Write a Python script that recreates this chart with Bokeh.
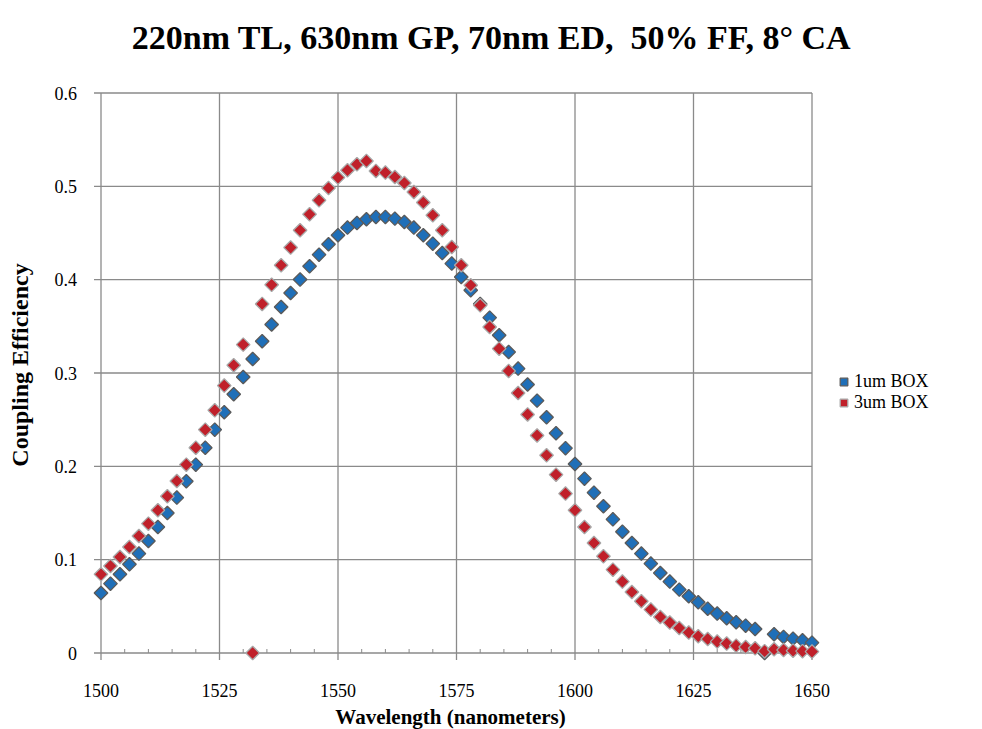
import numpy as np
from bokeh.plotting import figure
from bokeh.models import ColumnDataSource, Legend, LegendItem
from bokeh.core.properties import value
from bokeh.embed import file_html
from bokeh.resources import INLINE

# ---- data -------------------------------------------------------------
wavelength = list(range(1500, 1651, 2))

box_1um = [
    0.0643, 0.0743, 0.0843, 0.0950, 0.1065, 0.1200, 0.1350, 0.1500, 0.1665, 0.1840,
    0.2018, 0.2200, 0.2393, 0.2579, 0.2772, 0.2957, 0.3150, 0.3340, 0.3520, 0.3707,
    0.3857, 0.4001, 0.4143, 0.4268, 0.4379, 0.4476, 0.4558, 0.4607, 0.4647, 0.4672,
    0.4672, 0.4654, 0.4618, 0.4558, 0.4476, 0.4386, 0.4286, 0.4172, 0.4029, 0.3886,
    0.3740, 0.3593, 0.3404, 0.3225, 0.3047, 0.2877, 0.2704, 0.2525, 0.2354, 0.2195,
    0.2025, 0.1868, 0.1718, 0.1572, 0.1432, 0.1300, 0.1179, 0.1065, 0.0958, 0.0857,
    0.0765, 0.0679, 0.0608, 0.0543, 0.0475, 0.0422, 0.0372, 0.0329, 0.0293, 0.0257,
    0.0000, 0.0200, 0.0172, 0.0154, 0.0136, 0.0111,
]

box_3um = [
    0.0843, 0.0932, 0.1029, 0.1136, 0.1254, 0.1386, 0.1529, 0.1679, 0.1843, 0.2018,
    0.2200, 0.2393, 0.2600, 0.2865, 0.3083, 0.3304, 0.0000, 0.3740, 0.3945, 0.4154,
    0.4344, 0.4529, 0.4700, 0.4850, 0.4982, 0.5094, 0.5172, 0.5236, 0.5272, 0.5165,
    0.5147, 0.5100, 0.5036, 0.4939, 0.4827, 0.4690, 0.4529, 0.4350, 0.4154, 0.3940,
    0.3725, 0.3493, 0.3261, 0.3022, 0.2786, 0.2556, 0.2331, 0.2118, 0.1911, 0.1708,
    0.1529, 0.1350, 0.1179, 0.1036, 0.0893, 0.0765, 0.0654, 0.0554, 0.0465, 0.0386,
    0.0326, 0.0268, 0.0219, 0.0179, 0.0150, 0.0122, 0.0101, 0.0079, 0.0064, 0.0050,
    0.0020, 0.0040, 0.0032, 0.0025, 0.0020, 0.0015,
]

series_names = ["1um BOX", "3um BOX"]
x_ticks = [1500, 1525, 1550, 1575, 1600, 1625, 1650]
x_tick_labels = ["1500", "1525", "1550", "1575", "1600", "1625", "1650"]
x_minor = [v for v in range(1500, 1651, 5) if v % 25 != 0]
y_ticks = [0, 0.1, 0.2, 0.3, 0.4, 0.5, 0.6]
y_tick_labels = ["0", "0.1", "0.2", "0.3", "0.4", "0.5", "0.6"]
title_text = "220nm TL, 630nm GP, 70nm ED,\u00a0 50% FF, 8\u00b0 CA"
x_title = "Wavelength (nanometers)"
y_title = "Coupling Efficiency"

# ---- layout (pixels) --------------------------------------------------
SERIF = value("Liberation Serif")
GRID = "#8a8a8a"
W, H = 982, 729
PX_LEFT, PX_RIGHT = 100.5, 811.5      # plot area edges, from canvas left
PX_TOP, PX_BOTTOM = 92.5, 652.5       # plot area edges, from canvas top
x0, x1 = x_ticks[0], x_ticks[-1]
y0, y1 = y_ticks[0], y_ticks[-1]
KX = (PX_RIGHT - PX_LEFT) / (x1 - x0)
KY = (PX_BOTTOM - PX_TOP) / (y1 - y0)
# the frame fills the whole canvas; ranges chosen so the plot area sits at the pixels above
x_range = (x0 - PX_LEFT / KX, x0 + (W - PX_LEFT) / KX)
y_range = (y0 - (H - PX_BOTTOM) / KY, y0 + PX_BOTTOM / KY)

p = figure(width=W, height=H, x_range=x_range, y_range=y_range,
           x_axis_type=None, y_axis_type=None,
           output_backend="svg", toolbar_location=None,
           min_border=0, min_border_left=0, min_border_right=0,
           min_border_top=0, min_border_bottom=0)
p.title.visible = False
p.grid.visible = False
p.background_fill_color = "white"
p.border_fill_color = "white"
p.outline_line_color = None

# grid lines (also serve as the plot-area frame)
p.segment(x0=x0, x1=x1, y0=y_ticks, y1=y_ticks, line_color=GRID, line_width=1.3)
p.segment(x0=x_ticks, x1=x_ticks, y0=y0, y1=y1, line_color=GRID, line_width=1.3)

# major ticks (outside), minor ticks (inside) on the wavelength axis
p.segment(x0=x_ticks, x1=x_ticks, y0=y0, y1=y0 - 7 / KY, line_color=GRID, line_width=1.3)
p.segment(x0=x0, x1=x0 - 7 / KX, y0=y_ticks, y1=y_ticks, line_color=GRID, line_width=1.3)
p.segment(x0=x_minor, x1=x_minor, y0=y0, y1=y0 + 4 / KY, line_color=GRID, line_width=1.0)

# tick labels
p.text(x=x_ticks, y=[y0] * len(x_ticks), text=x_tick_labels, y_offset=37,
       text_align="center", text_baseline="middle", text_font=SERIF,
       text_font_size="18px", text_color="black")
p.text(x=[x0] * len(y_ticks), y=y_ticks, text=y_tick_labels, x_offset=-24,
       text_align="right", text_baseline="middle", text_font=SERIF,
       text_font_size="18px", text_color="black")

# axis titles and chart title
xmid = (x0 + x1) / 2
ymid = (y0 + y1) / 2
p.text(x=[xmid], y=[y0], text=[x_title], x_offset=-6, y_offset=64,
       text_align="center", text_baseline="middle", text_font=SERIF,
       text_font_size="21px", text_font_style="bold", text_color="black")
p.text(x=[x0], y=[ymid], text=[y_title], x_offset=-81, y_offset=-8, angle=np.pi / 2,
       text_align="center", text_baseline="middle", text_font=SERIF,
       text_font_size="24px", text_font_style="bold", text_color="black")
p.text(x=[xmid], y=[y1], text=[title_text], x_offset=35, y_offset=-56,
       text_align="center", text_baseline="middle", text_font=SERIF,
       text_font_size="34px", text_font_style="bold", text_color="black")

# data
src = ColumnDataSource(dict(x=wavelength, b1=box_1um, b3=box_3um))
r1 = p.scatter("x", "b1", source=src, marker="square", angle=np.pi / 4, size=9.6,
               fill_color="#1f6fb8", line_color="#5a5a5a", line_width=1.3)
r2 = p.scatter("x", "b3", source=src, marker="square", angle=np.pi / 4, size=9.6,
               fill_color="#c0202a", line_color="#a8a8a8", line_width=1.3)

legend = Legend(items=[LegendItem(label=series_names[0], renderers=[r1]),
                       LegendItem(label=series_names[1], renderers=[r2])],
                location=(833, 316))
legend.label_text_font = "Liberation Serif"
legend.label_text_font_size = "18px"
legend.label_text_line_height = 1.0
legend.label_text_color = "black"
legend.background_fill_alpha = 0
legend.border_line_color = None
legend.glyph_width = 21
legend.glyph_height = 19
legend.label_height = 19
legend.label_standoff = 0
legend.spacing = 0
legend.padding = 0
legend.margin = 0
p.add_layout(legend, "center")

open("out.html", "w").write(file_html(p, INLINE))
